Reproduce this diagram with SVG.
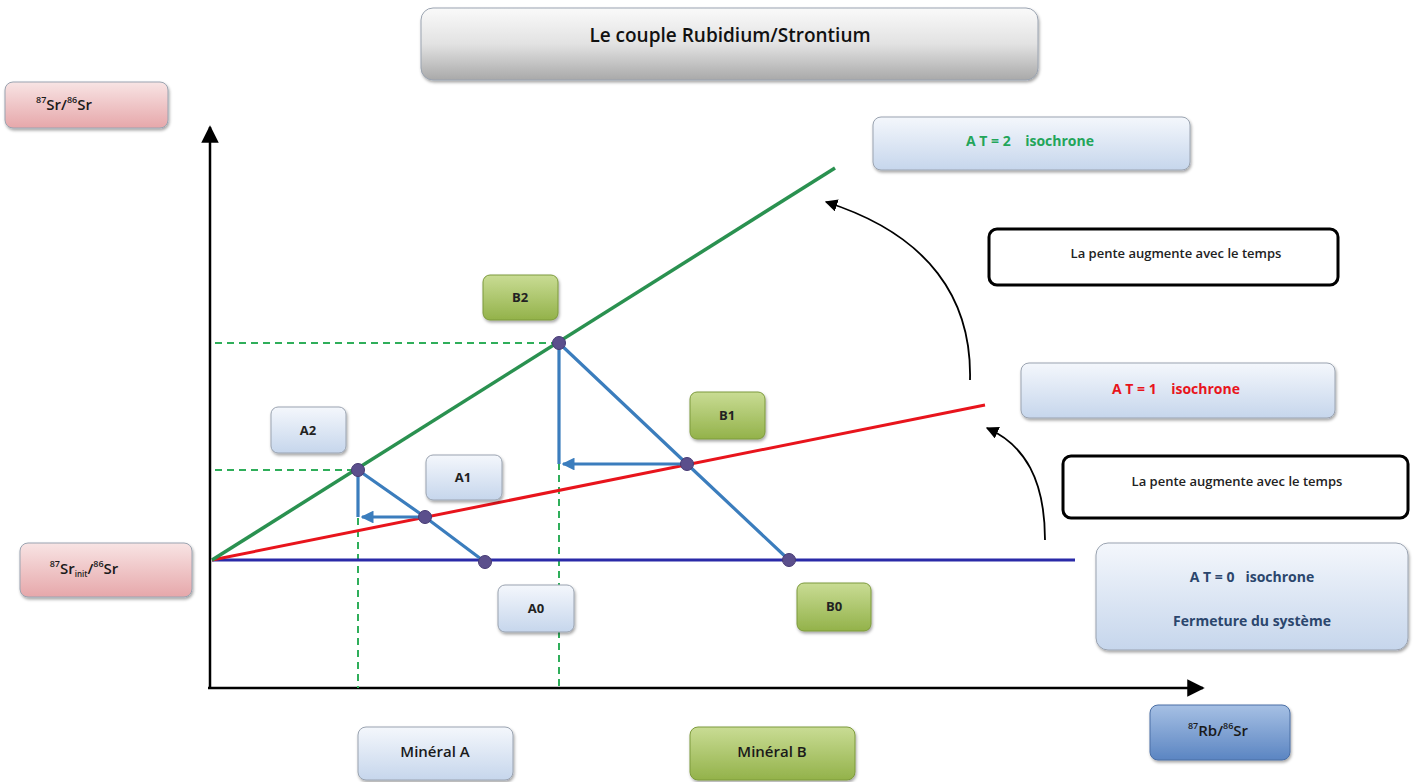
<svg xmlns="http://www.w3.org/2000/svg" width="1421" height="782" viewBox="0 0 1421 782">
<defs>
<linearGradient id="gGrey" x1="0" y1="0" x2="0" y2="1"><stop offset="0" stop-color="#fafafa"/><stop offset="0.5" stop-color="#e2e2e2"/><stop offset="1" stop-color="#a9a9a9"/></linearGradient>
<linearGradient id="gBlue" x1="0" y1="0" x2="0" y2="1"><stop offset="0" stop-color="#f4f7fc"/><stop offset="1" stop-color="#c6d6ec"/></linearGradient>
<linearGradient id="gGreen" x1="0" y1="0" x2="0" y2="1"><stop offset="0" stop-color="#c9dc94"/><stop offset="1" stop-color="#93b24a"/></linearGradient>
<linearGradient id="gPink" x1="0" y1="0" x2="0" y2="1"><stop offset="0" stop-color="#f8e4e4"/><stop offset="1" stop-color="#e6a7aa"/></linearGradient>
<linearGradient id="gMid" x1="0" y1="0" x2="0" y2="1"><stop offset="0" stop-color="#a6c0e4"/><stop offset="1" stop-color="#5b85c2"/></linearGradient>
<filter id="sh" x="-10%" y="-10%" width="130%" height="140%"><feDropShadow dx="1" dy="2" stdDeviation="1.5" flood-color="#000" flood-opacity="0.35"/></filter>
<marker id="ak" viewBox="0 0 10 10" refX="9" refY="5" markerWidth="7" markerHeight="7" orient="auto"><path d="M0,0 L10,5 L0,10 z" fill="#000"/></marker>
<marker id="ab" viewBox="0 0 10 10" refX="9" refY="5" markerWidth="4" markerHeight="4" orient="auto"><path d="M0,0 L10,5 L0,10 z" fill="#3b7dbd"/></marker>
</defs>
<style>
text{font-family:"Open Sans","Liberation Sans",sans-serif;text-anchor:middle;dominant-baseline:central}
.box{stroke:#9aa3b0;stroke-width:1}
.lbl{font-size:13px;font-weight:bold;fill:#222}
.big{font-size:15px;fill:#1a1a1a;font-weight:600}
.note{font-size:13px;font-weight:600;fill:#222}
.pente{fill:#fff;stroke:#000;stroke-width:3}
.dash{stroke:#2fae5a;stroke-width:2;stroke-dasharray:7,5;fill:none}
.bl{stroke:#3b7dbd;stroke-width:3.2;fill:none}
.pt{fill:#5b4f8c;stroke:#463a74;stroke-width:1}
</style>

<g id="connectors">
<line x1="210" y1="688" x2="210" y2="127" stroke="#000" stroke-width="2.5" marker-end="url(#ak)"/>
<line x1="208" y1="688" x2="1203" y2="688" stroke="#000" stroke-width="2.5" marker-end="url(#ak)"/>
<line class="dash" x1="215" y1="343" x2="559" y2="343"/>
<line class="dash" x1="215" y1="470" x2="358" y2="470"/>
<line class="dash" x1="358" y1="470" x2="358" y2="688"/>
<line class="dash" x1="559" y1="343" x2="559" y2="688"/>
<line x1="212" y1="560" x2="1075" y2="560" stroke="#2a2aa8" stroke-width="3"/>
<line x1="212" y1="560" x2="985" y2="405" stroke="#e8141c" stroke-width="3"/>
<line x1="212" y1="560" x2="835" y2="168" stroke="#2a9150" stroke-width="3.5"/>
<polyline class="bl" points="485,562 425,517 358,470 358,517"/>
<polyline class="bl" points="789,560 687,464 559,343 559,464"/>
<line class="bl" x1="425" y1="517" x2="362" y2="517" marker-end="url(#ab)"/>
<line class="bl" x1="687" y1="464" x2="563" y2="464" marker-end="url(#ab)"/>
<path d="M1045,540 C1045,480 1025,445 987,428" fill="none" stroke="#000" stroke-width="1.8" marker-end="url(#ak)"/>
<path d="M970,380 C972,300 930,235 826,202" fill="none" stroke="#000" stroke-width="1.8" marker-end="url(#ak)"/>
</g>

<g id="points">
<circle class="pt" cx="485" cy="562" r="6.5"/>
<circle class="pt" cx="789" cy="560" r="6.5"/>
<circle class="pt" cx="425" cy="517" r="6.5"/>
<circle class="pt" cx="687" cy="464" r="6.5"/>
<circle class="pt" cx="358" cy="470" r="6.5"/>
<circle class="pt" cx="559" cy="343" r="6.5"/>
</g>

<g id="title"><rect class="box" x="421" y="8" width="617" height="72" rx="12" fill="url(#gGrey)" filter="url(#sh)"/><text x="730" y="35" font-size="19" font-weight="600" fill="#111">Le couple Rubidium/Strontium</text></g>
<g id="yaxis-label"><rect class="box" x="5" y="82" width="163" height="46" rx="8" fill="url(#gPink)" filter="url(#sh)"/><text x="64" y="104" class="big"><tspan font-size="9" dy="-5">87</tspan><tspan dy="5">Sr/</tspan><tspan font-size="9" dy="-5">86</tspan><tspan dy="5">Sr</tspan></text></g>
<g id="init-label"><rect class="box" x="20" y="543" width="172" height="54" rx="8" fill="url(#gPink)" filter="url(#sh)"/><text x="84" y="568" class="big"><tspan font-size="9" dy="-5">87</tspan><tspan dy="5">Sr</tspan><tspan font-size="8" dy="5">init</tspan><tspan dy="-5">/</tspan><tspan font-size="9" dy="-5">86</tspan><tspan dy="5">Sr</tspan></text></g>
<g id="xaxis-label"><rect x="1150" y="705" width="140" height="55" rx="8" fill="url(#gMid)" stroke="#4a6fa5" filter="url(#sh)"/><text x="1218" y="730" class="big"><tspan font-size="9" dy="-5">87</tspan><tspan dy="5">Rb/</tspan><tspan font-size="9" dy="-5">86</tspan><tspan dy="5">Sr</tspan></text></g>

<g id="iso2"><rect class="box" x="873" y="117" width="317" height="53" rx="8" fill="url(#gBlue)" filter="url(#sh)"/><text x="1030" y="140" font-size="14" font-weight="bold" fill="#23a55a" xml:space="preserve">A T = 2    isochrone</text></g>
<g id="pente1"><rect class="pente" x="989" y="229" width="349" height="56" rx="8"/><text x="1176" y="253" class="note">La pente augmente avec le temps</text></g>
<g id="iso1"><rect class="box" x="1021" y="363" width="314" height="55" rx="8" fill="url(#gBlue)" filter="url(#sh)"/><text x="1176" y="388" font-size="14" font-weight="bold" fill="#e8141c" xml:space="preserve">A T = 1    isochrone</text></g>
<g id="pente2"><rect class="pente" x="1063" y="456" width="345" height="62" rx="8"/><text x="1237" y="481" class="note">La pente augmente avec le temps</text></g>
<g id="iso0"><rect class="box" x="1096" y="543" width="312" height="107" rx="12" fill="url(#gBlue)" filter="url(#sh)"/><text x="1252" y="576" font-size="14" font-weight="bold" fill="#2b466d" xml:space="preserve">A T = 0   isochrone</text><text x="1252" y="620" font-size="14" font-weight="bold" fill="#2b466d">Fermeture du système</text></g>

<g id="A2"><rect class="box" x="271" y="407" width="75" height="46" rx="7" fill="url(#gBlue)" filter="url(#sh)"/><text x="308" y="430" class="lbl">A2</text></g>
<g id="A1"><rect class="box" x="426" y="455" width="76" height="45" rx="7" fill="url(#gBlue)" filter="url(#sh)"/><text x="463" y="477" class="lbl">A1</text></g>
<g id="A0"><rect class="box" x="498" y="585" width="76" height="47" rx="7" fill="url(#gBlue)" filter="url(#sh)"/><text x="536" y="608" class="lbl">A0</text></g>
<g id="B2"><rect x="483" y="275" width="75" height="45" rx="7" fill="url(#gGreen)" stroke="#7d9a3c" filter="url(#sh)"/><text x="520" y="297" class="lbl">B2</text></g>
<g id="B1"><rect x="690" y="392" width="75" height="47" rx="7" fill="url(#gGreen)" stroke="#7d9a3c" filter="url(#sh)"/><text x="727" y="415" class="lbl">B1</text></g>
<g id="B0"><rect x="797" y="583" width="74" height="48" rx="7" fill="url(#gGreen)" stroke="#7d9a3c" filter="url(#sh)"/><text x="834" y="606" class="lbl">B0</text></g>
<g id="mineralA"><rect class="box" x="358" y="727" width="155" height="53" rx="8" fill="url(#gBlue)" filter="url(#sh)"/><text x="435" y="751" class="big">Minéral A</text></g>
<g id="mineralB"><rect x="690" y="727" width="165" height="53" rx="8" fill="url(#gGreen)" stroke="#7d9a3c" filter="url(#sh)"/><text x="772" y="751" class="big">Minéral B</text></g>
</svg>
